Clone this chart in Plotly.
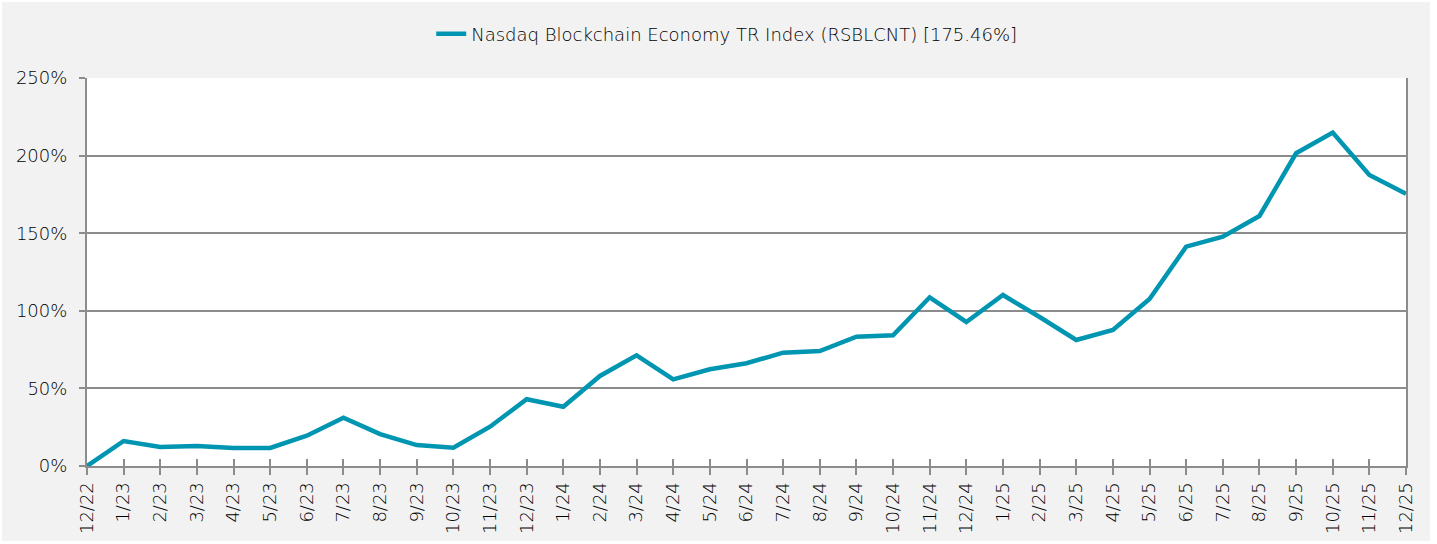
import plotly.graph_objects as go

labels = ["12/22", "1/23", "2/23", "3/23", "4/23", "5/23", "6/23", "7/23", "8/23", "9/23",
          "10/23", "11/23", "12/23", "1/24", "2/24", "3/24", "4/24", "5/24", "6/24", "7/24",
          "8/24", "9/24", "10/24", "11/24", "12/24", "1/25", "2/25", "3/25", "4/25", "5/25",
          "6/25", "7/25", "8/25", "9/25", "10/25", "11/25", "12/25"]
values = [0.0, 16.1, 12.3, 12.9, 11.6, 11.6, 19.5, 31.1, 20.6, 13.5,
          11.8, 25.3, 43.0, 38.2, 58.0, 71.3, 55.8, 62.3, 66.2, 73.0,
          74.1, 83.3, 84.2, 108.7, 92.8, 110.2, 96.0, 81.2, 87.6, 107.6,
          141.3, 147.7, 161.1, 201.5, 214.8, 187.5, 175.46]
series_name = "Nasdaq Blockchain Economy TR Index (RSBLCNT) [175.46%]"
y_ticks = [0, 50, 100, 150, 200, 250]

xs = list(range(len(labels)))
FONT = "'DejaVu Sans', sans-serif"
GRID = "#8c8c8c"
TXT = dict(family=FONT, size=18, color="#000000", weight=300)

fig = go.Figure()
fig.add_trace(go.Scatter(x=xs, y=values, mode="lines", name=series_name,
                         line=dict(color="#0096b2", width=4.5), cliponaxis=False))
# invisible trace on overlay axis to draw the inner halves of the x ticks
fig.add_trace(go.Scatter(x=xs, y=values, mode="lines", xaxis="x2", showlegend=False,
                         line=dict(width=0), hoverinfo="skip", opacity=0))

fig.update_layout(
    width=1428, height=539,
    paper_bgcolor="#f2f2f2", plot_bgcolor="#ffffff",
    margin=dict(l=85, r=24, t=76, b=75, autoexpand=False),
    font=TXT,
    showlegend=True,
    legend=dict(orientation="h", x=0.485, xanchor="center", xref="paper",
                y=0.975, yref="container", yanchor="top",
                font=TXT, bgcolor="rgba(0,0,0,0)", itemwidth=30),
    xaxis=dict(range=[0, len(labels) - 1], tickmode="array", tickvals=xs, ticktext=labels,
               tickangle=-90, ticks="outside", ticklen=7, tickwidth=2, tickcolor=GRID,
               showline=True, linecolor=GRID, linewidth=2, showgrid=False, zeroline=False,
               tickfont=TXT, automargin=False),
    xaxis2=dict(range=[0, len(labels) - 1], tickmode="array", tickvals=xs, overlaying="x",
                anchor="y", side="bottom", ticks="inside", ticklen=7, tickwidth=2,
                tickcolor=GRID, showticklabels=False, showgrid=False, zeroline=False,
                showline=False, automargin=False),
    yaxis=dict(range=[0, 250], tickmode="array", tickvals=y_ticks,
               ticktext=[f"{v}%" for v in y_ticks], ticks="outside", ticklen=6,
               tickwidth=2, tickcolor=GRID, showline=True, linecolor=GRID, linewidth=2,
               mirror=True, showgrid=True, gridcolor=GRID, gridwidth=1.5, zeroline=False,
               tickfont=TXT, ticklabelstandoff=8, automargin=False),
)

fig.write_html("out.html", post_script="document.body.style.margin='2px';")
